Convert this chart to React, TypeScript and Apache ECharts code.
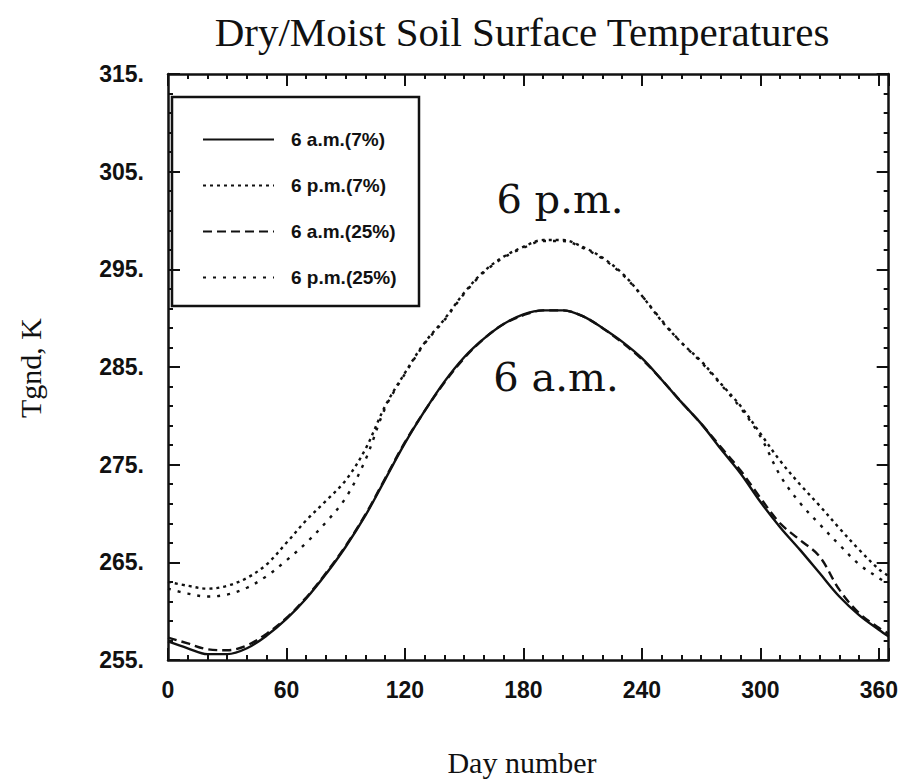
import React, { useEffect, useRef } from "react";
import * as echarts from "echarts";

// Day numbers (x) at which the curves were read
const days = [
  0, 10, 20, 30, 40, 50, 60, 70, 80, 90, 100, 110, 120, 130, 140, 150, 160, 170, 180,
  190, 200, 210, 220, 230, 240, 250, 260, 270, 280, 290, 300, 310, 320, 330, 340, 350, 360, 365,
];

// 6 a.m. (7%) – solid
const am7 = [
  256.9, 256.2, 255.6, 255.6, 256.2, 257.5, 259.2, 261.3, 263.8, 266.6, 269.8, 273.5, 277.2,
  280.5, 283.5, 286.0, 287.9, 289.4, 290.4, 290.8, 290.8, 290.2, 289.0, 287.6, 285.9, 283.7,
  281.4, 279.2, 276.6, 274.1, 271.2, 268.6, 266.3, 263.9, 261.5, 259.6, 258.1, 257.4,
];

// 6 p.m. (7%) – dense dots
const pm7 = [
  263.0, 262.6, 262.3, 262.6, 263.4, 264.8, 267.0, 269.3, 271.3, 273.4, 276.6, 281.0, 284.4,
  287.5, 289.9, 292.6, 294.8, 296.3, 297.3, 298.0, 298.0, 297.3, 296.2, 294.6, 292.3, 289.7,
  287.5, 285.6, 283.3, 281.0, 278.2, 275.4, 273.0, 270.8, 268.5, 266.3, 264.3, 263.6,
];

// 6 a.m. (25%) – dashed
const am25 = [
  257.3, 256.7, 256.1, 256.0, 256.5, 257.7, 259.3, 261.4, 263.9, 266.7, 269.9, 273.6, 277.3,
  280.5, 283.4, 285.9, 287.9, 289.4, 290.3, 290.8, 290.8, 290.2, 289.0, 287.5, 285.8, 283.7,
  281.4, 279.2, 276.8, 274.4, 271.6, 269.0, 267.3, 265.6, 262.2, 259.8, 258.3, 257.7,
];

// 6 p.m. (25%) – sparse dots
const pm25 = [
  262.3, 261.8, 261.5, 261.7, 262.4, 263.6, 265.2, 267.0, 269.1, 271.6, 275.5, 280.8, 284.3,
  287.4, 289.8, 292.5, 294.7, 296.2, 297.2, 297.9, 297.9, 297.2, 296.1, 294.5, 292.3, 289.8,
  287.5, 285.5, 283.2, 280.8, 277.9, 273.9, 271.1, 268.9, 266.8, 264.8, 263.4, 262.8,
];

const seriesNames = ["6 a.m.(7%)", "6 p.m.(7%)", "6 a.m.(25%)", "6 p.m.(25%)"];
const xTicks = [0, 60, 120, 180, 240, 300, 360];
const yTicks = [255, 265, 275, 285, 295, 305, 315];

const INK = "#111";
const TICK_FONT = "'Liberation Sans', Arial, sans-serif";
const SERIF = "'Liberation Serif', 'DejaVu Serif', serif";
const ANNOT = "'DejaVu Serif', 'Liberation Serif', serif";

export default function App() {
  const ref = useRef<HTMLDivElement>(null);

  useEffect(() => {
    if (!ref.current) return;
    const chart = echarts.init(ref.current, undefined, { renderer: "svg" });

    const pairs = (ys: number[]) => days.map((d, i) => [d, ys[i]]);
    const line = (w: number) => ({ color: INK, width: w });

    const xBase = {
      type: "value" as const,
      min: 0,
      max: 365,
      splitLine: { show: false },
    };
    const yBase = {
      type: "value" as const,
      min: yTicks[0],
      max: yTicks[yTicks.length - 1],
      interval: 10,
      splitLine: { show: false },
    };

    const mkSeries = (name: string, ys: number[], type: any) => ({
      name,
      type: "line",
      data: pairs(ys),
      xAxisIndex: 0,
      yAxisIndex: 0,
      symbol: "none",
      smooth: 0.35,
      lineStyle: { color: INK, width: 2.4, type },
      itemStyle: { color: INK },
    });

    chart.setOption({
      animation: false,
      backgroundColor: "#fff",
      grid: { left: 168, right: 11, top: 74, bottom: 121, containLabel: false },
      xAxis: [
        {
          ...xBase,
          position: "bottom",
          interval: 60,
          axisLine: { show: true, onZero: false, lineStyle: line(2.5) },
          axisTick: { show: true, inside: true, length: 12, lineStyle: line(2) },
          axisLabel: {
            show: true,
            margin: 18,
            color: INK,
            fontFamily: TICK_FONT,
            fontWeight: "bold",
            fontSize: 23,
            formatter: (v: number) => (xTicks.includes(v) ? String(v) : ""),
          },
        },
        {
          ...xBase,
          position: "bottom",
          interval: 10,
          axisLine: { show: false, onZero: false },
          axisTick: { show: true, inside: true, length: 5, lineStyle: line(2) },
          axisLabel: { show: false },
        },
        {
          ...xBase,
          position: "top",
          interval: 60,
          axisLine: { show: true, onZero: false, lineStyle: line(2.5) },
          axisTick: { show: true, inside: true, length: 12, lineStyle: line(2) },
          axisLabel: { show: false },
        },
        {
          ...xBase,
          position: "top",
          interval: 10,
          axisLine: { show: false, onZero: false },
          axisTick: { show: true, inside: true, length: 5, lineStyle: line(2) },
          axisLabel: { show: false },
        },
      ],
      yAxis: [
        {
          ...yBase,
          position: "left",
          axisLine: { show: true, onZero: false, lineStyle: line(2.5) },
          axisTick: { show: true, inside: true, length: 12, lineStyle: line(2) },
          minorTick: { show: true, splitNumber: 5, length: 5, lineStyle: line(2) },
          axisLabel: {
            show: true,
            margin: 24,
            color: INK,
            fontFamily: TICK_FONT,
            fontWeight: "bold",
            fontSize: 23,
            formatter: (v: number) => `${v}.`,
          },
        },
        {
          ...yBase,
          position: "right",
          axisLine: { show: true, onZero: false, lineStyle: line(2.5) },
          axisTick: { show: true, inside: true, length: 12, lineStyle: line(2) },
          minorTick: { show: true, splitNumber: 5, length: 5, lineStyle: line(2) },
          axisLabel: { show: false },
        },
      ],
      legend: {
        orient: "vertical",
        left: 197,
        top: 125,
        itemWidth: 71,
        itemHeight: 14,
        itemGap: 27,
        data: seriesNames,
        itemStyle: { opacity: 0 },
        textStyle: {
          color: INK,
          fontFamily: TICK_FONT,
          fontWeight: "bold",
          fontSize: 19,
          padding: [0, 0, 0, 12],
        },
      },
      series: [
        mkSeries(seriesNames[0], am7, "solid"),
        mkSeries(seriesNames[1], pm7, [3, 4]),
        mkSeries(seriesNames[2], am25, [9, 5]),
        mkSeries(seriesNames[3], pm25, [3, 7]),
      ],
      graphic: [
        {
          type: "rect",
          shape: { x: 172, y: 97, width: 247, height: 209 },
          style: { fill: "none", stroke: INK, lineWidth: 2.5 },
          z: 5,
        },
        {
          type: "text",
          x: 522,
          y: 32,
          style: {
            text: "Dry/Moist Soil Surface Temperatures",
            fill: INK,
            font: `41px ${SERIF}`,
            textAlign: "center",
            textVerticalAlign: "middle",
          },
        },
        {
          type: "text",
          x: 560,
          y: 199,
          style: {
            text: "6 p.m.",
            fill: INK,
            font: `40px ${ANNOT}`,
            textAlign: "center",
            textVerticalAlign: "middle",
          },
        },
        {
          type: "text",
          x: 556,
          y: 377,
          style: {
            text: "6 a.m.",
            fill: INK,
            font: `40px ${ANNOT}`,
            textAlign: "center",
            textVerticalAlign: "middle",
          },
        },
        {
          type: "text",
          x: 522,
          y: 762,
          style: {
            text: "Day number",
            fill: INK,
            font: `30px ${SERIF}`,
            textAlign: "center",
            textVerticalAlign: "middle",
          },
        },
        {
          type: "text",
          x: 30,
          y: 368,
          rotation: Math.PI / 2,
          style: {
            text: "Tgnd, K",
            fill: INK,
            font: `30px ${SERIF}`,
            textAlign: "center",
            textVerticalAlign: "middle",
          },
        },
      ],
    });

    return () => chart.dispose();
  }, []);

  return (
    <div
      ref={ref}
      style={{ position: "absolute", left: 0, top: 0, width: 901, height: 781, background: "#fff" }}
    />
  );
}
